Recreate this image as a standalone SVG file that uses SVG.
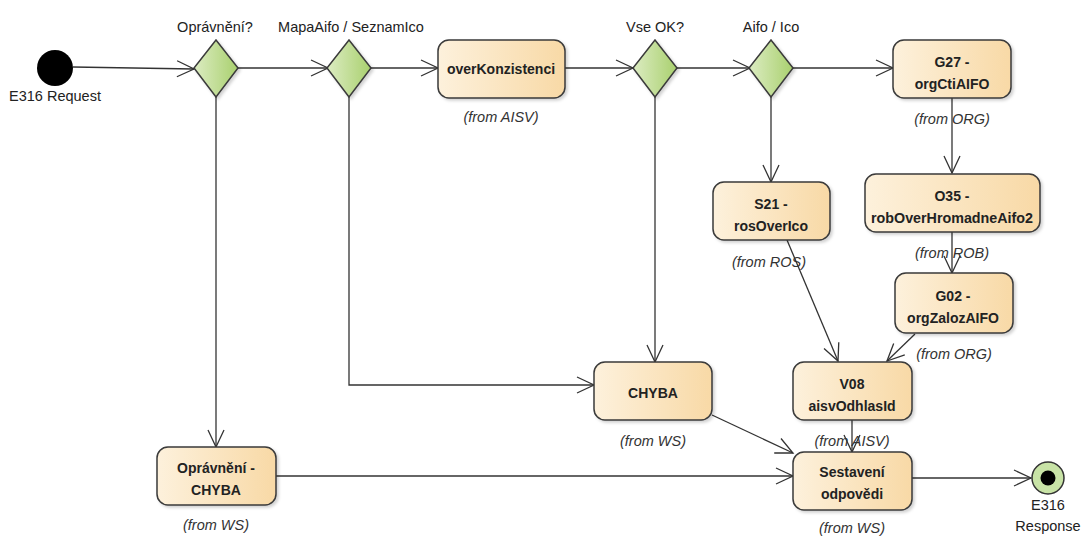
<svg xmlns="http://www.w3.org/2000/svg" width="1081" height="536" viewBox="0 0 1081 536">
<style>
.act{fill:url(#gAct);stroke:#3a3a3a;stroke-width:1.5;filter:url(#sh)}
.dec{fill:url(#gDec);stroke:#3a3a3a;stroke-width:1.5;filter:url(#sh)}
.t{font-family:"Liberation Sans",Arial,sans-serif;font-size:14px;font-weight:bold;fill:#222;text-anchor:middle}
.f{font-family:"Liberation Sans",Arial,sans-serif;font-size:14.5px;font-style:italic;fill:#333;text-anchor:middle}
.l{font-family:"Liberation Sans",Arial,sans-serif;font-size:14.5px;fill:#222;text-anchor:middle}
.c{fill:none;stroke:#333;stroke-width:1.3;marker-end:url(#arr)}
</style>
<defs>
<linearGradient id="gAct" x1="0" y1="0" x2="1" y2="0"><stop offset="0" stop-color="#fdf1dc"/><stop offset="1" stop-color="#f8d9a6"/></linearGradient>
<linearGradient id="gDec" x1="0" y1="0" x2="1" y2="0"><stop offset="0" stop-color="#dcecc2"/><stop offset="1" stop-color="#a9d06e"/></linearGradient>
<filter id="sh" x="-20%" y="-20%" width="140%" height="140%"><feDropShadow dx="2" dy="2" stdDeviation="1.5" flood-color="#000" flood-opacity="0.18"/></filter>
<marker id="arr" markerUnits="userSpaceOnUse" markerWidth="20" markerHeight="20" refX="18" refY="9" orient="auto"><path d="M1,1 L18,9 L1,17" fill="none" stroke="#333" stroke-width="1.3"/></marker>
</defs>
<g id="connectors">
<path class="c" d="M73,67 L194,69"/>
<path class="c" d="M238,68 L328,68"/>
<path class="c" d="M371,68 L438,68"/>
<path class="c" d="M565,68 L633,68"/>
<path class="c" d="M677,68 L750,68"/>
<path class="c" d="M793,68 L893,68"/>
<path class="c" d="M216,97 L216,447"/>
<path class="c" d="M349,97 L349,385 L594,385"/>
<path class="c" d="M655,97 L655,362"/>
<path class="c" d="M771,97 L771,182"/>
<path class="c" d="M952,98 L952,173"/>
<path class="c" d="M952,232 L952,273"/>
<path class="c" d="M787,240 L838,361"/>
<path class="c" d="M915,334 L887,361"/>
<path class="c" d="M852,420 L852,452"/>
<path class="c" d="M712,415 L793,453"/>
<path class="c" d="M276,476 L793,476"/>
<path class="c" d="M912,478 L1031,478"/>
</g>
<g id="start">
<circle cx="55" cy="68" r="18" fill="#000"/>
<text class="l" x="55" y="101">E316 Request</text>
</g>
<g id="d1">
<path class="dec" d="M216,40 L238,68 L216,97 L194,68 Z"/>
<text class="l" x="215" y="32">Oprávnění?</text>
</g>
<g id="d2">
<path class="dec" d="M349,40 L371,68 L349,97 L327,68 Z"/>
<text class="l" x="351" y="32">MapaAifo / SeznamIco</text>
</g>
<g id="overKonzistenci">
<rect class="act" x="438" y="40" width="127" height="58" rx="11"/>
<text class="t" x="501" y="74">overKonzistenci</text>
<text class="f" x="501" y="122">(from AISV)</text>
</g>
<g id="d3">
<path class="dec" d="M655,40 L677,68 L655,97 L633,68 Z"/>
<text class="l" x="655" y="32">Vse OK?</text>
</g>
<g id="d4">
<path class="dec" d="M771,40 L793,68 L771,97 L749,68 Z"/>
<text class="l" x="771" y="32">Aifo / Ico</text>
</g>
<g id="G27">
<rect class="act" x="893" y="40" width="118" height="58" rx="11"/>
<text class="t" x="952" y="67">G27 -</text>
<text class="t" x="952" y="89">orgCtiAIFO</text>
<text class="f" x="952" y="124">(from ORG)</text>
</g>
<g id="S21">
<rect class="act" x="713" y="182" width="117" height="58" rx="11"/>
<text class="t" x="771" y="209">S21 -</text>
<text class="t" x="771" y="231">rosOverIco</text>
<text class="f" x="769" y="267">(from ROS)</text>
</g>
<g id="O35">
<rect class="act" x="865" y="174" width="175" height="58" rx="11"/>
<text class="t" x="952" y="201">O35 -</text>
<text class="t" x="952" y="223" textLength="162" lengthAdjust="spacingAndGlyphs">robOverHromadneAifo2</text>
<text class="f" x="952" y="258">(from ROB)</text>
</g>
<g id="G02">
<rect class="act" x="895" y="273" width="118" height="60" rx="11"/>
<text class="t" x="953" y="301">G02 -</text>
<text class="t" x="953" y="323">orgZalozAIFO</text>
<text class="f" x="954" y="359">(from ORG)</text>
</g>
<g id="CHYBA">
<rect class="act" x="594" y="362" width="118" height="58" rx="11"/>
<text class="t" x="653" y="398">CHYBA</text>
<text class="f" x="653" y="446">(from WS)</text>
</g>
<g id="V08">
<rect class="act" x="793" y="362" width="119" height="58" rx="11"/>
<text class="t" x="852" y="389">V08</text>
<text class="t" x="852" y="411">aisvOdhlasId</text>
<text class="f" x="852" y="446">(from AISV)</text>
</g>
<g id="OpravneniChyba">
<rect class="act" x="157" y="447" width="119" height="58" rx="11"/>
<text class="t" x="216" y="473">Oprávnění -</text>
<text class="t" x="216" y="495">CHYBA</text>
<text class="f" x="216" y="530">(from WS)</text>
</g>
<g id="Sestaveni">
<rect class="act" x="793" y="452" width="119" height="58" rx="11"/>
<text class="t" x="852" y="477">Sestavení</text>
<text class="t" x="852" y="499">odpovědi</text>
<text class="f" x="852" y="533">(from WS)</text>
</g>
<g id="end">
<circle cx="1048" cy="478" r="16" fill="#c8e3a6" stroke="#333" stroke-width="1.5"/>
<circle cx="1048" cy="478" r="7.5" fill="#000"/>
<text class="l" x="1048" y="510">E316</text>
<text class="l" x="1048" y="531">Response</text>
</g>
</svg>
